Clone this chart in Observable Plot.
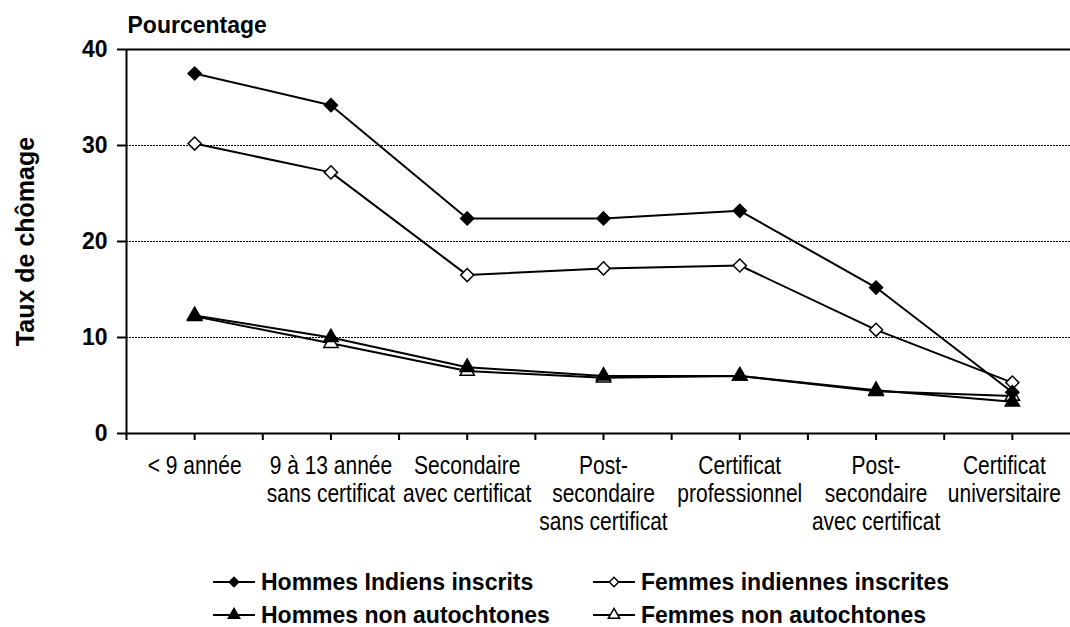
<!DOCTYPE html>
<html>
<head>
<meta charset="utf-8">
<script src="https://cdn.jsdelivr.net/npm/d3@7"></script>
<script src="https://cdn.jsdelivr.net/npm/@observablehq/plot@0.6"></script>
<style>
  html, body { margin: 0; padding: 0; background: white; }
  #chart { position: relative; width: 1070px; height: 627px; overflow: hidden; }
  #chart svg { display: block; }
</style>
</head>
<body>
<div id="chart"></div>
<script>
// ---- Data ----
const categories = [
  "< 9 année",
  "9 à 13 année\nsans certificat",
  "Secondaire\navec certificat",
  "Post-\nsecondaire\nsans certificat",
  "Certificat\nprofessionnel",
  "Post-\nsecondaire\navec certificat",
  "Certificat\nuniversitaire"
];
const seriesNames = [
  "Hommes Indiens inscrits",
  "Femmes indiennes inscrites",
  "Hommes non autochtones",
  "Femmes non autochtones"
];
const hommesIndiens        = [37.5, 34.2, 22.4, 22.4, 23.2, 15.2, 4.3];
const femmesIndiennes      = [30.2, 27.2, 16.5, 17.2, 17.5, 10.8, 5.3];
const hommesNonAutochtones = [12.3, 10.0, 6.9, 6.0, 6.0, 4.5, 3.3];
const femmesNonAutochtones = [12.2, 9.4, 6.5, 5.8, 6.0, 4.4, 3.9];
const yTicks = [0, 10, 20, 30, 40];
const gridValues = [10, 20, 30];
const yTitle = "Taux de chômage";
const yUnit = "Pourcentage";

// ---- Styles ----
const seriesValues = [hommesIndiens, femmesIndiennes, hommesNonAutochtones, femmesNonAutochtones];
const seriesStyle = [
  {symbol: "diamond2", fill: "black", r: 5.9},
  {symbol: "diamond2", fill: "white", r: 5.9},
  {symbol: "triangle", fill: "black", r: 5.3},
  {symbol: "triangle", fill: "white", r: 5.3}
];
const drawOrder = [3, 2, 1, 0];

const rows = [];
seriesNames.forEach((s, k) => seriesValues[k].forEach((v, i) => rows.push({series: s, k, cat: i, value: v})));

const halfTicks = d3.range(-0.5, 6.51, 0.5);
const font = "'Liberation Sans', Arial, sans-serif";
const lastCat = categories.length - 1;
const labelOpts = {
  x: (d, i) => i, y: 0,
  dy: 20, lineAnchor: "top", lineHeight: 1.13,
  fontSize: 25, textAnchor: "middle", fill: "black"
};

const plot = Plot.plot({
  width: 1070,
  height: 555,
  marginLeft: 126,
  marginRight: 0,
  marginTop: 49,
  marginBottom: 122,
  style: {fontFamily: font, background: "white", color: "black", overflow: "visible"},
  x: {type: "linear", domain: [-0.5, 6.5], range: [126, 1080], axis: null},
  y: {domain: [0, 40], axis: null},
  marks: [
    Plot.ruleY(gridValues, {stroke: "black", strokeWidth: 1, strokeDasharray: "2,1"}),
    Plot.ruleY([40], {stroke: "black", strokeWidth: 2}),
    Plot.ruleY([0], {stroke: "black", strokeWidth: 2}),
    Plot.ruleX([-0.5], {y1: 0, y2: 40, stroke: "black", strokeWidth: 2}),
    Plot.axisY(yTicks, {tickSize: 9, tickPadding: 10, fontSize: 23, fontWeight: "bold", strokeWidth: 2, label: null}),
    Plot.axisX(halfTicks, {tickSize: 7, tickFormat: () => "", strokeWidth: 2, label: null}),
    Plot.text(categories, {...labelOpts, filter: (d, i) => i < lastCat}),
    Plot.text(categories, {...labelOpts, filter: (d, i) => i === lastCat, dx: -8}),
    Plot.text([yTitle], {frameAnchor: "left", dx: -101, rotate: -90, fontSize: 25, fontWeight: "bold", lineAnchor: "middle", textAnchor: "middle", fill: "black"}),
    Plot.text([yUnit], {frameAnchor: "top-left", dx: 1, dy: -24, fontSize: 23, fontWeight: "bold", lineAnchor: "middle", textAnchor: "start", fill: "black"}),
    Plot.line(rows, {x: "cat", y: "value", z: "series", stroke: "black", strokeWidth: 2}),
    ...drawOrder.map(k => Plot.dot(rows.filter(d => d.k === k), {
      x: "cat", y: "value",
      symbol: () => seriesStyle[k].symbol,
      r: seriesStyle[k].r,
      fill: seriesStyle[k].fill,
      stroke: "black", strokeWidth: 1.5
    }))
  ]
});
document.getElementById("chart").appendChild(plot);

// Condense the category labels horizontally (narrow face look), scaling about each anchor
const firstLines = new Set(categories.map(c => c.split("\n")[0]));
const squeeze = 0.84;
plot.querySelectorAll("text").forEach(t => {
  const tspans = t.querySelectorAll("tspan");
  const first = tspans.length ? tspans[0].textContent : t.textContent;
  if (!firstLines.has(first)) return;
  const tr = t.getAttribute("transform");
  if (tr) {
    t.setAttribute("transform", tr + ` scale(${squeeze},1)`);
  } else {
    const x = +(t.getAttribute("x") || 0);
    t.setAttribute("transform", `matrix(${squeeze},0,0,1,${(x * (1 - squeeze)).toFixed(2)},0)`);
  }
});

// ---- Legend (below the plot) ----
const legendSymbols = {diamond2: d3.symbolDiamond2, triangle: d3.symbolTriangle};
const legend = d3.select("#chart").append("svg")
  .attr("width", 1070).attr("height", 72)
  .style("font-family", font);
const colX = [213, 593];
const rowY = [27, 60];
seriesNames.forEach((name, k) => {
  const col = k % 2, row = Math.floor(k / 2);
  const g = legend.append("g").attr("transform", `translate(${colX[col]},${rowY[row]})`);
  g.append("line").attr("x1", 0).attr("x2", 42).attr("y1", 0).attr("y2", 0)
    .attr("stroke", "black").attr("stroke-width", 2);
  const st = seriesStyle[k];
  g.append("path")
    .attr("transform", "translate(21,0)")
    .attr("d", d3.symbol(legendSymbols[st.symbol], Math.PI * 4.2 * 4.2)())
    .attr("fill", st.fill).attr("stroke", "black").attr("stroke-width", 1.5);
  g.append("text").attr("x", 48).attr("y", 8.3)
    .attr("font-size", 23).attr("font-weight", "bold").attr("fill", "black")
    .text(name);
});
</script>
</body>
</html>
